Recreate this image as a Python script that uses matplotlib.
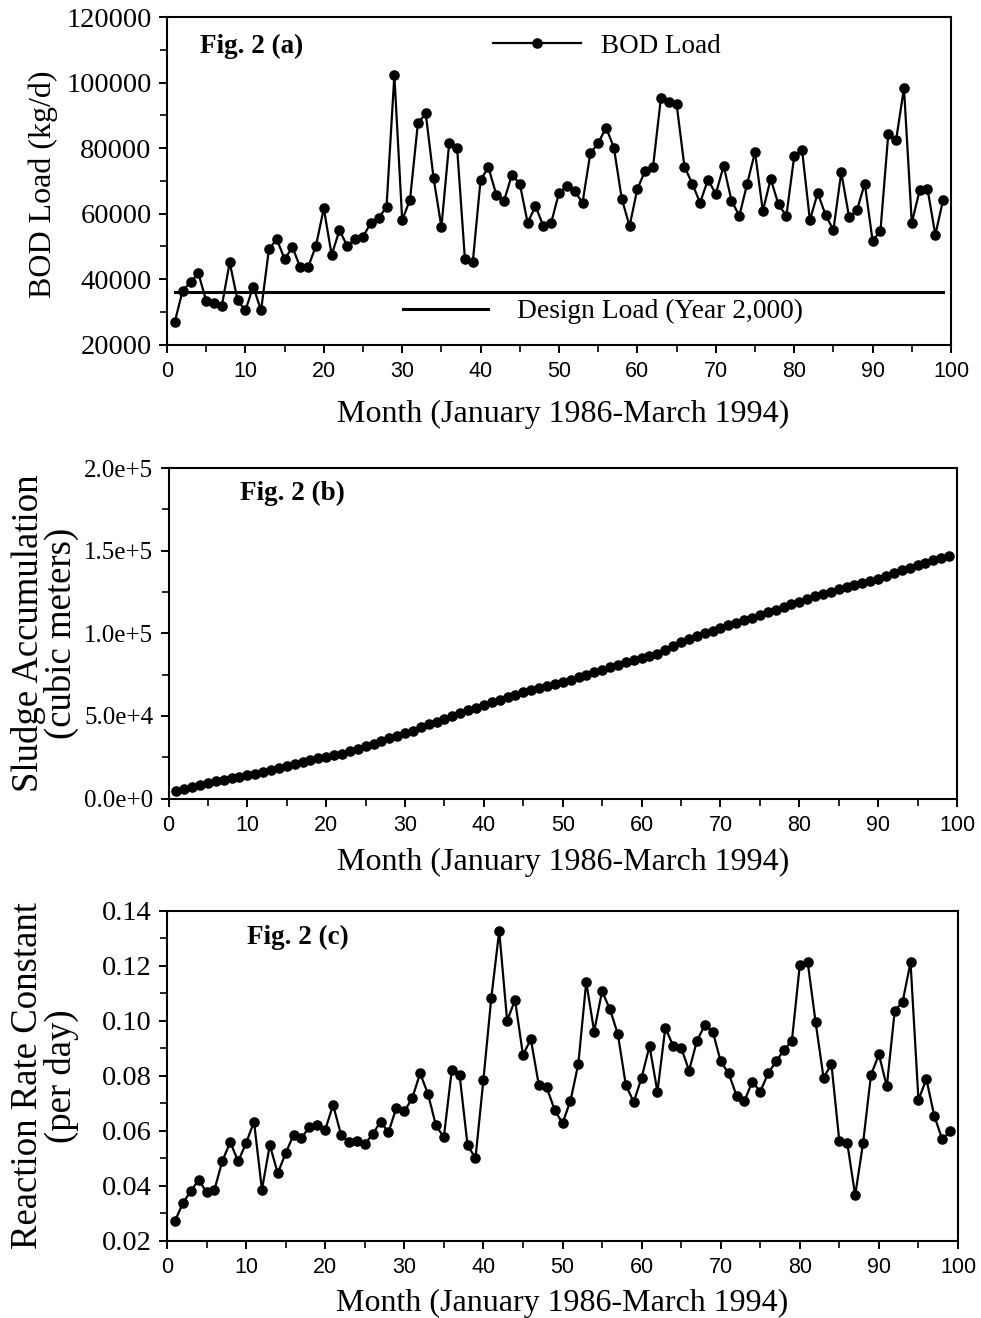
import matplotlib
matplotlib.use("Agg")
import matplotlib.pyplot as plt
from matplotlib.lines import Line2D
from matplotlib.ticker import MultipleLocator, FixedLocator, FixedFormatter

# ---------------- data ----------------
months = list(range(1, 100))

bod_load = [27000, 36500, 39000, 41800, 33300, 32600, 31900, 45100, 33500, 30400,
            37700, 30400, 49100, 52200, 46100, 49700, 43600, 43600, 50200, 61600,
            47400, 54900, 50100, 52200, 52900, 57200, 58600, 62100, 102300, 58000,
            64300, 87600, 90600, 70900, 55900, 81700, 80200, 46100, 45100, 70400,
            74100, 65800, 64000, 71900, 69100, 57200, 62300, 56200, 57200, 66300,
            68400, 66900, 63300, 78500, 81500, 86300, 80200, 64600, 56200, 67600,
            73100, 74400, 95400, 94000, 93400, 74400, 69100, 63300, 70400, 66000,
            74600, 64000, 59300, 69100, 78800, 60800, 70600, 62800, 59300, 77500,
            79500, 58000, 66300, 59600, 55000, 72600, 59000, 61000, 69200, 51700,
            54700, 84300, 82500, 98400, 57200, 67100, 67600, 53500, 64300]

design_months = [1, 99]
design_load = [36000, 36000]

sludge = [4800, 6000, 7200, 8300, 9400, 10300, 11300, 12300, 13300, 14100,
          15000, 16000, 17200, 18500, 19800, 21000, 22200, 23300, 24300, 25300,
          26200, 27200, 28600, 30000, 31500, 33000, 34800, 36500, 38000, 39500,
          41000, 43000, 44800, 46500, 48200, 50000, 51800, 53500, 55000, 56800,
          58300, 59800, 61300, 62800, 64200, 65500, 66700, 67900, 69100, 70500,
          71900, 73300, 74700, 76300, 77900, 79400, 81000, 82400, 83600, 84800,
          86000, 87500, 89600, 92000, 94500, 96800, 98500, 100000, 101600, 103200,
          104800, 106400, 108000, 109500, 111000, 112600, 114200, 115800, 117500, 119100,
          120700, 122300, 123800, 125200, 126600, 127900, 129200, 130500, 131800, 133000,
          134600, 136300, 138000, 139600, 141200, 142700, 144100, 145500, 146900]

rate_k = [0.0270, 0.0336, 0.0379, 0.0421, 0.0376, 0.0385, 0.0490, 0.0558, 0.0488, 0.0555,
          0.0633, 0.0385, 0.0548, 0.0445, 0.0518, 0.0585, 0.0575, 0.0612, 0.0619, 0.0603,
          0.0694, 0.0585, 0.0558, 0.0561, 0.0551, 0.0587, 0.0633, 0.0594, 0.0684, 0.0670,
          0.0718, 0.0809, 0.0733, 0.0619, 0.0576, 0.0821, 0.0801, 0.0546, 0.0500, 0.0785,
          0.1084, 0.1327, 0.1000, 0.1076, 0.0876, 0.0933, 0.0767, 0.0758, 0.0676, 0.0627,
          0.0708, 0.0843, 0.1142, 0.0961, 0.1108, 0.1042, 0.0951, 0.0767, 0.0704, 0.0793,
          0.0908, 0.0742, 0.0975, 0.0908, 0.0902, 0.0819, 0.0927, 0.0985, 0.0961, 0.0852,
          0.0809, 0.0728, 0.0708, 0.0779, 0.0742, 0.0809, 0.0852, 0.0894, 0.0927, 0.1203,
          0.1213, 0.0995, 0.0793, 0.0842, 0.0561, 0.0555, 0.0364, 0.0555, 0.0803, 0.0878,
          0.0761, 0.1036, 0.1070, 0.1213, 0.0712, 0.0788, 0.0654, 0.0569, 0.0597]

x_ticks = [0, 10, 20, 30, 40, 50, 60, 70, 80, 90, 100]
x_ticklabels = ["0", "10", "20", "30", "40", "50", "60", "70", "80", "90", "100"]
a_yticks = [20000, 40000, 60000, 80000, 100000, 120000]
a_yticklabels = ["20000", "40000", "60000", "80000", "100000", "120000"]
b_yticks = [0, 50000, 100000, 150000, 200000]
b_yticklabels = ["0.0e+0", "5.0e+4", "1.0e+5", "1.5e+5", "2.0e+5"]
c_yticks = [0.02, 0.04, 0.06, 0.08, 0.10, 0.12, 0.14]
c_yticklabels = ["0.02", "0.04", "0.06", "0.08", "0.10", "0.12", "0.14"]

xlabel = "Month (January 1986-March 1994)"

# ---------------- style ----------------
SERIF = ["Liberation Serif", "DejaVu Serif"]
SANS = ["Liberation Sans", "DejaVu Sans"]
plt.rcParams["font.family"] = SERIF
LW = 1.6
MS = 6.6
TICK_FS = 20.5
LAB_FS = 23
LAB2_FS = 26.5
FIG_FS = 19.5

W, H = 981, 1318
fig = plt.figure(figsize=(W / 100, H / 100), dpi=100)


def make_axes(left, right, top, bottom):
    return fig.add_axes([left / W, 1 - bottom / H, (right - left) / W, (bottom - top) / H])


def style(ax, yticks, yticklabels, yminor, ylim, ytick_fs=TICK_FS):
    ax.set_xlim(0, 100)
    ax.set_ylim(*ylim)
    ax.xaxis.set_major_locator(FixedLocator(x_ticks))
    ax.xaxis.set_major_formatter(FixedFormatter(x_ticklabels))
    ax.xaxis.set_minor_locator(MultipleLocator(5))
    ax.yaxis.set_major_locator(FixedLocator(yticks))
    ax.yaxis.set_major_formatter(FixedFormatter(yticklabels))
    ax.yaxis.set_minor_locator(MultipleLocator(yminor))
    for s in ax.spines.values():
        s.set_linewidth(1.5)
    ax.tick_params(which="major", direction="out", length=6, width=1.4)
    ax.tick_params(which="minor", direction="out", length=5, width=1.2)
    ax.tick_params(axis="x", which="major", pad=6)
    ax.tick_params(axis="y", which="major", pad=5)
    for t in ax.get_xticklabels():
        t.set_fontfamily(SANS)
        t.set_fontsize(15.5)
    for t in ax.get_yticklabels():
        t.set_fontfamily(SERIF)
        t.set_fontsize(ytick_fs)


# ---------------- panel (a) ----------------
axa = make_axes(167, 951, 17.3, 344.5)
axa.plot(months, bod_load, color="black", lw=LW, marker="o", ms=MS)
axa.plot(design_months, design_load, color="black", lw=2.2)
style(axa, a_yticks, a_yticklabels, 10000, (20000, 120000))
axa.set_ylabel("BOD Load (kg/d)", fontsize=LAB_FS)
axa.yaxis.set_label_coords(-0.139, 0.49)
axa.set_xlabel(xlabel, fontsize=LAB_FS)
axa.xaxis.set_label_coords(0.505, -0.170)
axa.text(0.042, 0.912, "Fig. 2 (a)", transform=axa.transAxes, fontsize=FIG_FS,
         fontweight="bold", va="center", ha="left")
leg1 = axa.legend(handles=[Line2D([], [], color="black", lw=LW, marker="o", ms=MS)],
                  labels=["BOD Load"], loc="center left", bbox_to_anchor=(0.4158, 0.912),
                  frameon=False, fontsize=19.5, handlelength=3.25, handletextpad=0.75,
                  borderpad=0, borderaxespad=0)
axa.add_artist(leg1)
axa.legend(handles=[Line2D([], [], color="black", lw=2.2)],
           labels=["Design Load (Year 2,000)"], loc="center left",
           bbox_to_anchor=(0.301, 0.100), frameon=False, fontsize=19.8,
           handlelength=3.1, handletextpad=1.05, borderpad=0, borderaxespad=0)

# ---------------- panel (b) ----------------
axb = make_axes(168.5, 957, 468, 798.5)
axb.plot(months, sludge, color="black", lw=LW, marker="o", ms=MS)
style(axb, b_yticks, b_yticklabels, 25000, (0, 200000), ytick_fs=18)
axb.set_ylabel("Sludge Accumulation\n(cubic meters)", fontsize=LAB2_FS, linespacing=0.95)
axb.yaxis.set_label_coords(-0.113, 0.5)
axb.set_xlabel(xlabel, fontsize=LAB_FS)
axb.xaxis.set_label_coords(0.50, -0.148)
axb.text(0.0907, 0.924, "Fig. 2 (b)", transform=axb.transAxes, fontsize=FIG_FS,
         fontweight="bold", va="center", ha="left")

# ---------------- panel (c) ----------------
axc = make_axes(167, 958, 911, 1240.5)
axc.plot(months, rate_k, color="black", lw=LW, marker="o", ms=MS)
style(axc, c_yticks, c_yticklabels, 0.01, (0.02, 0.14))
axc.set_ylabel("Reaction Rate Constant\n(per day)", fontsize=LAB2_FS, linespacing=0.95)
axc.yaxis.set_label_coords(-0.111, 0.5)
axc.set_xlabel(xlabel, fontsize=LAB_FS)
axc.xaxis.set_label_coords(0.50, -0.148)
axc.text(0.101, 0.921, "Fig. 2 (c)", transform=axc.transAxes, fontsize=FIG_FS,
         fontweight="bold", va="center", ha="left")

fig.savefig("out.png", dpi=100)
